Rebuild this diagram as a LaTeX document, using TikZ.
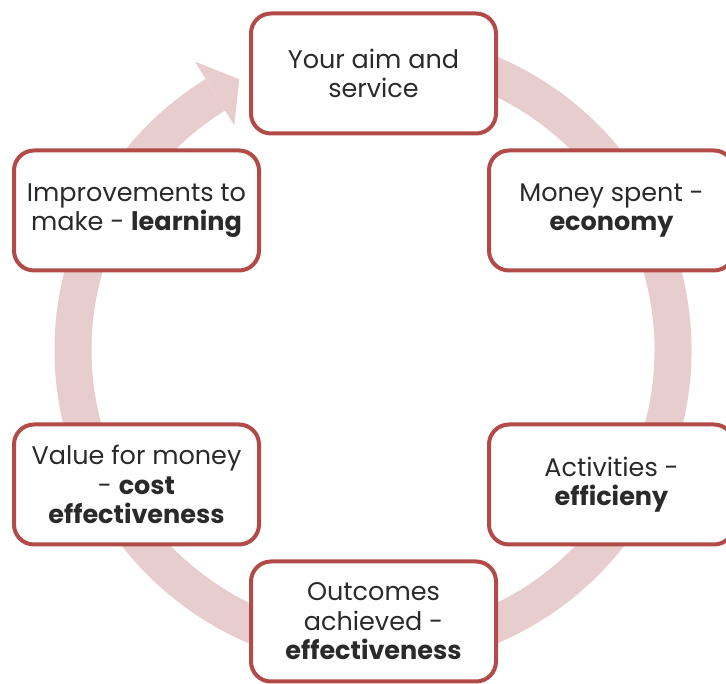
\documentclass[tikz,border=0pt]{standalone}
\usepackage{fontspec}
\setmainfont{Poppins}
\usetikzlibrary{calc}
\definecolor{ringpink}{HTML}{E8CDCF}
\definecolor{boxred}{HTML}{B24B48}
\definecolor{txtgray}{HTML}{2A2A2A}
\begin{document}
\begin{tikzpicture}[x=1pt,y=1pt,
  stagebox/.style={draw=boxred, line width=4pt, fill=white, rounded corners=20pt,
    minimum width=245pt, minimum height=120pt, align=center, text=txtgray,
    font=\fontsize{25.5}{29.5}\selectfont, inner sep=2pt}]
\useasboundingbox (0,0) rectangle (726,684);
\fill[white] (0,0) rectangle (726,684);

% centre of the cycle
\coordinate (c) at (373,334);

% circular arrow: body and head
\draw[ringpink, line width=37pt] ($(c)+(95:300pt)$) arc[start angle=95, end angle=-238.3, radius=300pt];
\fill[ringpink] ($(c)+(121.7:339pt)$) -- ($(c)+(116.3:302pt)$) -- ($(c)+(121.7:264pt)$) -- cycle;

% stages of the cycle
\node[stagebox] (aim)   at (373.5,610.5) {Your aim and\\service};
\node[stagebox] (money) at (611.5,473.5) {Money spent -\\\textbf{economy}};
\node[stagebox] (act)   at (611.5,199.5) {Activities -\\\textbf{efficieny}};
\node[stagebox] (out)   at (373.5,62.5)  {Outcomes\\achieved -\\\textbf{effectiveness}};
\node[stagebox] (vfm)   at (136.5,199.5) {Value for money\\- \textbf{cost}\\\textbf{effectiveness}};
\node[stagebox] (imp)   at (136.5,473.5) {Improvements to\\make - \textbf{learning}};
\end{tikzpicture}
\end{document}
